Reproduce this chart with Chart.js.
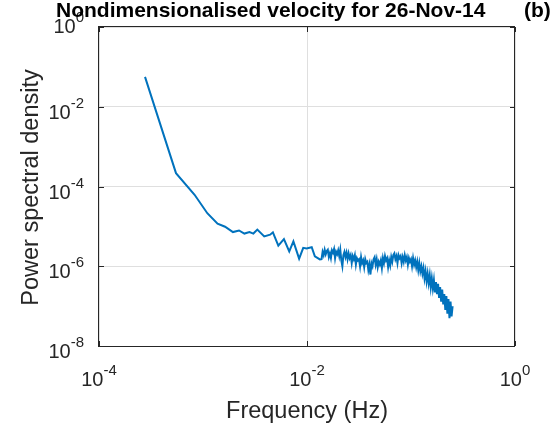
<!DOCTYPE html>
<html>
<head>
<meta charset="utf-8">
<script src="https://cdn.jsdelivr.net/npm/chart.js@4.4.1/dist/chart.umd.min.js"></script>
<style>
  html, body { margin: 0; padding: 0; background: #fff; }
  canvas { display: block; }
</style>
</head>
<body>
<canvas id="psdChart" width="554" height="430"></canvas>
<script>
// Texts
const titleText = 'Nondimensionalised velocity for 26-Nov-14';
const panelLabel = '(b)';
const xAxisLabel = 'Frequency (Hz)';
const yAxisLabel = 'Power spectral density';

// Decade ticks (every 2 decades)
const xTicks = [1e-4, 1e-2, 1];
const yTicks = [1e-8, 1e-6, 1e-4, 1e-2, 1];

// Frequencies (Hz)
const freqHz = [
    2.77e-4, 5.5e-4, 8.3e-4, 1.1e-3, 1.38e-3, 1.63e-3, 1.94e-3, 2.22e-3, 2.5e-3, 2.8e-3,
    3.05e-3, 3.33e-3, 3.88e-3, 4.42e-3, 4.7e-3, 5.3e-3, 6.0e-3, 6.75e-3, 7.4e-3, 8.4e-3,
    9.2e-3, 9.9e-3, 1.11e-2, 1.19e-2, 1.33e-2,
    0.01380, 0.01413, 0.01445, 0.01479, 0.01514, 0.01549, 0.01585, 0.01622, 0.01660, 0.01698,
    0.01738, 0.01778, 0.01820, 0.01862, 0.01905, 0.01950, 0.01995, 0.02042, 0.02089, 0.02138,
    0.02188, 0.02239, 0.02291, 0.02344, 0.02399, 0.02455, 0.02512, 0.02570, 0.02630, 0.02692,
    0.02754, 0.02818, 0.02884, 0.02951, 0.03020, 0.03090, 0.03162, 0.03236, 0.03311, 0.03388,
    0.03467, 0.03548, 0.03631, 0.03715, 0.03802, 0.03890, 0.03981, 0.04074, 0.04169, 0.04266,
    0.04365, 0.04467, 0.04571, 0.04677, 0.04786, 0.04898, 0.05012, 0.05129, 0.05248, 0.05370,
    0.05495, 0.05623, 0.05754, 0.05888, 0.06026, 0.06166, 0.06310, 0.06457, 0.06607, 0.06761,
    0.06918, 0.07079, 0.07244, 0.07413, 0.07586, 0.07762, 0.07943, 0.08128, 0.08318, 0.08511,
    0.08710, 0.08913, 0.09120, 0.09333, 0.09550, 0.09772,
    0.1000, 0.1023, 0.1047, 0.1072, 0.1096, 0.1122, 0.1148, 0.1175, 0.1202, 0.1230,
    0.1259, 0.1288, 0.1318, 0.1349, 0.1380, 0.1413, 0.1445, 0.1479, 0.1514, 0.1549,
    0.1585, 0.1622, 0.1660, 0.1698, 0.1738, 0.1778, 0.1820, 0.1862, 0.1905, 0.1950,
    0.1995, 0.2042, 0.2089, 0.2138, 0.2188, 0.2239, 0.2291, 0.2344, 0.2399, 0.2455,
    0.2512
];

// Power spectral density at each frequency
const psd = [
    5.6e-2, 2.16e-4, 6.2e-5, 2.14e-5, 1.17e-5, 9.8e-6, 7.2e-6, 7.9e-6, 6.6e-6, 7.2e-6,
    6.6e-6, 8.3e-6, 5.6e-6, 6.2e-6, 7.1e-6, 3.3e-6, 4.8e-6, 2.35e-6, 4.2e-6, 1.55e-6,
    2.9e-6, 2.8e-6, 3.0e-6, 1.78e-6, 1.48e-6,
    1.5e-6, 2.3e-6, 1.9e-6, 2.6e-6, 2.0e-6, 2.4e-6, 2.6e-6, 1.7e-6, 2.1e-6, 1.6e-6,
    2.5e-6, 2.2e-6, 2.7e-6, 1.6e-6, 2.3e-6, 2.0e-6, 2.5e-6, 1.8e-6, 2.6e-6, 1.4e-6,
    1.0e-6, 1.9e-6, 2.3e-6, 1.7e-6, 2.2e-6, 1.5e-6, 2.1e-6, 1.6e-6, 1.9e-6, 1.2e-6,
    1.8e-6, 1.5e-6, 1.9e-6, 1.1e-6, 1.6e-6, 1.4e-6, 1.5e-6, 1.0e-6, 1.7e-6, 1.2e-6,
    1.4e-6, 0.95e-6, 1.5e-6, 1.2e-6, 1.3e-6, 0.8e-6, 1.1e-6, 0.62e-6, 1.2e-6, 1.0e-6,
    1.5e-6, 1.7e-6, 1.1e-6, 1.5e-6, 0.95e-6, 1.3e-6, 1.1e-6, 1.4e-6, 0.9e-6, 1.6e-6,
    1.2e-6, 1.8e-6, 1.4e-6, 1.6e-6, 0.95e-6, 1.4e-6, 1.05e-6, 1.7e-6, 1.3e-6, 1.9e-6,
    2.1e-6, 1.5e-6, 1.8e-6, 1.2e-6, 1.9e-6, 1.6e-6, 1.8e-6, 1.2e-6, 1.7e-6, 1.3e-6,
    1.9e-6, 1.4e-6, 1.7e-6, 1.1e-6, 1.6e-6, 1.3e-6, 1.5e-6, 1.0e-6, 1.6e-6, 1.1e-6,
    1.4e-6, 0.95e-6, 1.3e-6, 0.8e-6, 1.2e-6, 0.75e-6, 1.0e-6, 0.65e-6, 0.9e-6, 0.5e-6,
    0.75e-6, 0.42e-6, 0.65e-6, 0.38e-6, 0.6e-6, 0.3e-6, 0.5e-6, 0.28e-6, 0.45e-6, 0.22e-6,
    0.4e-6, 0.2e-6, 0.36e-6, 0.16e-6, 0.3e-6, 0.13e-6, 0.26e-6, 0.11e-6, 0.2e-6, 0.08e-6,
    0.18e-6, 0.065e-6, 0.15e-6, 0.05e-6, 0.13e-6, 0.055e-6, 0.1e-6
];

const fontFamily = '"Liberation Sans", Arial, Helvetica, sans-serif';
const axisColor = '#262626';

// writes 10 with a raised exponent, anchored at x (center or right edge)
function drawPowerLabel(ctx, value, x, y, align) {
    const exp = String(Math.round(Math.log10(value)));
    ctx.font = '20px ' + fontFamily;
    const wBase = ctx.measureText('10').width;
    ctx.font = '15px ' + fontFamily;
    const wExp = ctx.measureText(exp).width;
    const start = align === 'center' ? x - (wBase + wExp) / 2 : x - wBase - wExp;
    ctx.textAlign = 'left';
    ctx.textBaseline = 'alphabetic';
    ctx.font = '20px ' + fontFamily;
    ctx.fillText('10', start, y);
    ctx.font = '15px ' + fontFamily;
    ctx.fillText(exp, start + wBase, y - 11);
}

// MATLAB style box, inward ticks and labels
const matlabAxes = {
    id: 'matlabAxes',
    afterDraw(chart) {
        const ctx = chart.ctx;
        const a = chart.chartArea;
        const xs = chart.scales.x;
        const ys = chart.scales.y;
        ctx.save();
        ctx.strokeStyle = axisColor;
        ctx.fillStyle = axisColor;
        ctx.lineWidth = 1;
        ctx.strokeRect(a.left - 0.5, a.top - 0.5, a.right - a.left, a.bottom - a.top + 1);

        ctx.beginPath();
        xTicks.forEach(v => {
            const px = Math.round(xs.getPixelForValue(v)) + 0.5;
            ctx.moveTo(px, a.bottom); ctx.lineTo(px, a.bottom - 5);
            ctx.moveTo(px, a.top); ctx.lineTo(px, a.top + 5);
        });
        yTicks.forEach(v => {
            const py = Math.round(ys.getPixelForValue(v)) + 0.5;
            ctx.moveTo(a.left, py); ctx.lineTo(a.left + 5, py);
            ctx.moveTo(a.right, py); ctx.lineTo(a.right - 5, py);
        });
        ctx.stroke();

        xTicks.forEach(v => {
            drawPowerLabel(ctx, v, xs.getPixelForValue(v), a.bottom + 40, 'center');
        });
        yTicks.forEach((v, i) => {
            const shift = (i === yTicks.length - 1) ? -6 : 0;
            drawPowerLabel(ctx, v, a.left - 15, ys.getPixelForValue(v) + 12 + shift, 'right');
        });

        // axis titles
        ctx.textAlign = 'center';
        ctx.textBaseline = 'alphabetic';
        ctx.font = '23.5px ' + fontFamily;
        ctx.fillText(xAxisLabel, (a.left + a.right) / 2, 418);
        ctx.save();
        ctx.translate(38, (a.top + a.bottom) / 2 + 1);
        ctx.rotate(-Math.PI / 2);
        ctx.fillText(yAxisLabel, 0, 0);
        ctx.restore();

        // title and panel letter
        ctx.fillStyle = '#000';
        ctx.font = 'bold 21px ' + fontFamily;
        ctx.textAlign = 'left';
        ctx.fillText(titleText, 56, 17);
        ctx.fillText(panelLabel, 524, 17);
        ctx.restore();
    }
};

const points = freqHz.map((f, i) => ({ x: f, y: psd[i] }));

new Chart(document.getElementById('psdChart').getContext('2d'), {
    type: 'line',
    data: {
        datasets: [{
            data: points,
            borderColor: '#0072BD',
            borderWidth: 2,
            pointRadius: 0,
            tension: 0,
            fill: false
        }]
    },
    options: {
        responsive: false,
        animation: false,
        devicePixelRatio: 1,
        layout: { padding: { top: 27, right: 39, bottom: 0, left: 0 } },
        plugins: {
            legend: { display: false },
            tooltip: { enabled: false },
            title: { display: false }
        },
        scales: {
            x: {
                type: 'logarithmic',
                min: 1e-4,
                max: 1,
                afterBuildTicks: scale => { scale.ticks = xTicks.map(v => ({ value: v })); },
                afterFit: scale => { scale.height = 84; },
                ticks: { display: false },
                grid: { color: '#dfdfdf', drawTicks: false },
                border: { display: false }
            },
            y: {
                type: 'logarithmic',
                min: 1e-8,
                max: 1,
                afterBuildTicks: scale => { scale.ticks = yTicks.map(v => ({ value: v })); },
                afterFit: scale => { scale.width = 99; },
                ticks: { display: false },
                grid: { color: '#dfdfdf', drawTicks: false },
                border: { display: false }
            }
        }
    },
    plugins: [matlabAxes]
});
</script>
</body>
</html>
